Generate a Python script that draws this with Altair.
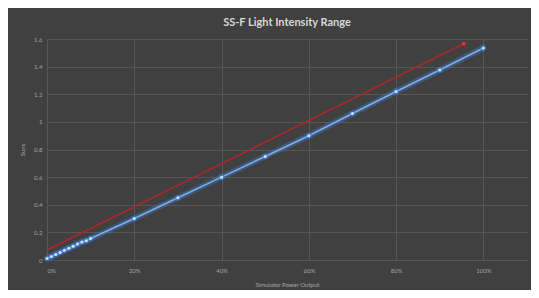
import altair as alt
import pandas as pd

# Measured series (Simulator power output as fraction, Suns)
blue_x = [0.00, 0.01, 0.02, 0.03, 0.04, 0.05, 0.06, 0.07, 0.08, 0.09, 0.10,
          0.20, 0.30, 0.40, 0.50, 0.60, 0.70, 0.80, 0.90, 1.00]
blue_y = [0.01, 0.025, 0.04, 0.055, 0.07, 0.085, 0.10, 0.115, 0.13, 0.14, 0.155,
          0.30, 0.45, 0.60, 0.75, 0.90, 1.06, 1.22, 1.375, 1.535]

# Red reference line
red_x = [0.00, 0.955]
red_y = [0.072, 1.565]

x_ticks = [0, 0.2, 0.4, 0.6, 0.8, 1.0]
y_ticks = [0, 0.2, 0.4, 0.6, 0.8, 1.0, 1.2, 1.4, 1.6]

blue = pd.DataFrame({"x": blue_x, "y": blue_y})
red = pd.DataFrame({"x": red_x, "y": red_y})
red_end = red.tail(1)

xs = alt.Scale(domain=[0, 1.1], nice=False, zero=False)
ys = alt.Scale(domain=[0, 1.6], nice=False)

X = alt.X("x:Q", scale=xs, title="Simulator Power Output",
          axis=alt.Axis(values=x_ticks, format=".0%", grid=True))
Y = alt.Y("y:Q", scale=ys, title="Suns",
          axis=alt.Axis(values=y_ticks, format="~g", grid=True))

red_line = alt.Chart(red).mark_line(color="#a8282c", strokeWidth=1.6).encode(x=X, y=Y)
red_pt = alt.Chart(red_end).mark_point(filled=True, color="#ff2a2a", size=16, opacity=1).encode(x=X, y=Y)

glow = alt.Chart(blue).mark_line(color="#3c82e0", strokeWidth=6, opacity=0.35).encode(x=X, y=Y)
bline = alt.Chart(blue).mark_line(color="#7fb0ea", strokeWidth=1.6).encode(x=X, y=Y)
bglow_pts = alt.Chart(blue).mark_point(filled=True, color="#3c82e0", size=40, opacity=0.45).encode(x=X, y=Y)
bpts = alt.Chart(blue).mark_point(filled=True, color="#cfe2fb", size=9, opacity=1).encode(x=X, y=Y)

chart = alt.layer(red_line, red_pt, glow, bline, bglow_pts, bpts).properties(
    width=480,
    height=221,
    autosize=alt.AutoSizeParams(type="none"),
    padding={"left": 39, "top": 31, "right": 4, "bottom": 30},
    background="#404040",
    title=alt.TitleParams(
        "SS-F Light Intensity Range",
        font="Lato", fontSize=11, fontWeight="bold", color="#d9d9d9",
        anchor="middle", offset=8,
    ),
).configure_view(stroke=None).configure_axis(
    domain=False,
    ticks=False,
    gridColor="#575757",
    gridWidth=1,
    labelColor="#a6a6a6",
    labelFont="Lato",
    labelFontSize=6,
    titleColor="#a6a6a6",
    titleFont="Lato",
    titleFontSize=6,
    titleFontWeight="normal",
).configure_axisX(
    labelPadding=7,
    titlePadding=8,
).configure_axisY(
    labelPadding=5,
    titlePadding=8,
)

chart.save("out.html", embed_options={"renderer": "svg", "actions": False})
